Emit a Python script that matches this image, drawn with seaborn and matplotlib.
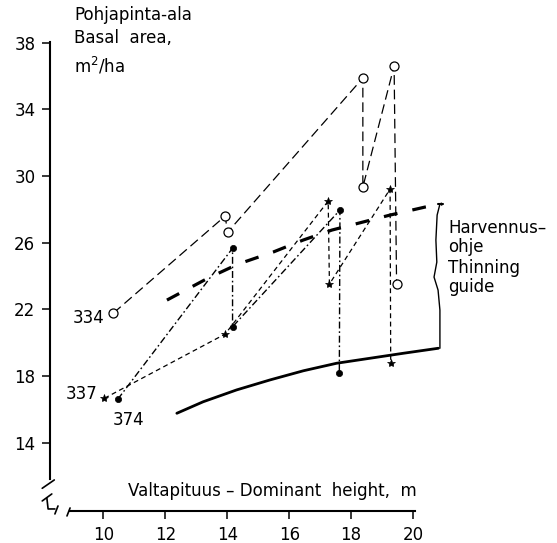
import matplotlib
matplotlib.use("Agg")
import matplotlib.pyplot as plt
import seaborn as sns

# Koeala 334 (avoimet ympyrät)
x_334 = [10.32, 13.93, 14.01, 18.38, 18.38, 19.39, 19.47]
y_334 = [21.78, 27.60, 26.63, 35.88, 29.34, 36.60, 23.52]

# Koeala 337 (tähdet)
x_337 = [10.03, 13.93, 17.26, 17.30, 19.26, 19.28]
y_337 = [16.67, 20.52, 28.50, 23.52, 29.22, 18.80]

# Koeala 374 (mustat pisteet)
x_374 = [10.46, 14.17, 14.17, 17.64, 17.62]
y_374 = [16.61, 25.67, 20.96, 27.96, 18.17]

# Harvennusohje, ylä- ja alaraja
ohje_yla_x = [12.05, 13.38, 14.35, 15.48, 16.45, 17.38, 18.38, 19.26, 20.39, 20.94]
ohje_yla_y = [22.56, 23.88, 24.72, 25.44, 26.16, 26.76, 27.24, 27.66, 28.14, 28.32]
ohje_ala_x = [12.37, 13.22, 14.30, 15.38, 16.46, 17.53, 18.61, 19.69, 20.82]
ohje_ala_y = [15.77, 16.46, 17.17, 17.77, 18.32, 18.77, 19.07, 19.37, 19.67]

x_ticks = [10, 12, 14, 16, 18, 20]
y_ticks = [14, 18, 22, 26, 30, 34, 38]

sns.set_style("ticks")
plt.rcParams['font.family'] = ['DejaVu Sans']
plt.rcParams['text.color'] = 'black'
plt.rcParams['lines.scale_dashes'] = False

fig = plt.figure(figsize=(5.57, 5.43), dpi=100)
ax = fig.add_axes([0, 0, 1, 1])
ax.set_facecolor('white')

# kasvupolut
sns.lineplot(x=x_334, y=y_334, sort=False, estimator=None, ax=ax, color='black',
             lw=0.9, linestyle=(0, (7, 3.5)), marker='o', markersize=6.5,
             markerfacecolor='white', markeredgecolor='black', markeredgewidth=0.9)
sns.lineplot(x=x_337, y=y_337, sort=False, estimator=None, ax=ax, color='black',
             lw=0.9, linestyle=(0, (3.5, 2.5)), marker='*', markersize=6,
             markerfacecolor='black', markeredgecolor='black', markeredgewidth=0.5)
sns.lineplot(x=x_374, y=y_374, sort=False, estimator=None, ax=ax, color='black',
             lw=1.0, linestyle=(0, (5, 2, 1.2, 2)), marker='o', markersize=4.5,
             markerfacecolor='black', markeredgecolor='black', markeredgewidth=0.5)

# harvennusohje
sns.lineplot(x=ohje_yla_x, y=ohje_yla_y, sort=False, estimator=None, ax=ax,
             color='black', lw=2.3, linestyle=(0, (10, 11)))
sns.lineplot(x=ohje_ala_x, y=ohje_ala_y, sort=False, estimator=None, ax=ax,
             color='black', lw=2.0)

# aaltosulje
sulje_x = [20.87, 20.78, 20.74, 20.77, 20.68, 20.81, 20.87, 20.87, 20.87]
sulje_y = [28.32, 27.66, 26.16, 24.84, 23.94, 23.16, 21.96, 20.46, 19.67]
ax.plot(sulje_x, sulje_y, color='black', lw=1.0)
ax.plot([20.80, 20.98], [28.32, 28.32], color='black', lw=1.5)

ax.set_xlim(6.656, 24.653)
ax.set_ylim(7.988, 40.561)

for s in ['top', 'right']:
    ax.spines[s].set_visible(False)
ax.spines['left'].set_position(('data', 8.27))
ax.spines['left'].set_bounds(11.85, 38.05)
ax.spines['bottom'].set_position(('data', 9.91))
ax.spines['bottom'].set_bounds(8.92, 20.06)
for s in ['left', 'bottom']:
    ax.spines[s].set_linewidth(1.5)
    ax.spines[s].set_color('black')

ax.set_xticks(x_ticks)
ax.set_yticks(y_ticks)
ax.tick_params(direction='out', length=5.5, width=1.1, labelsize=12, pad=5,
               colors='black', left=True, bottom=True)
ax.set_xlabel('')
ax.set_ylabel('')

# akselin katkot
ax.plot([8.02, 8.41], [11.27, 11.77], color='black', lw=1.2)
ax.plot([8.02, 8.33], [10.51, 10.93], color='black', lw=1.2)
ax.plot([8.17, 8.21, 8.43], [10.69, 10.03, 10.03], color='black', lw=1.2)
ax.plot([8.43, 8.53], [9.73, 10.21], color='black', lw=1.2)
ax.plot([8.82, 8.92], [9.61, 10.09], color='black', lw=1.2)

# tekstit
fs = 12
ax.text(9.05, 39.39, 'Pohjapinta-ala', fontsize=fs, va='baseline')
ax.text(9.05, 37.96, 'Basal  area,', fontsize=fs, va='baseline')
ax.text(9.05, 36.20, r'm$^{\mathregular{2}}$/ha', fontsize=fs, va='baseline')
ax.text(10.79, 10.81, 'Valtapituus – Dominant  height,  m', fontsize=fs, va='baseline')
ax.text(10.02, 21.17, '334', fontsize=fs, ha='right', va='baseline')
ax.text(9.79, 16.63, '337', fontsize=fs, ha='right', va='baseline')
ax.text(10.30, 15.07, '374', fontsize=fs, ha='left', va='baseline')
for txt, yy in [('Harvennus–', 26.60), ('ohje', 25.42), ('Thinning', 24.20), ('guide', 23.06)]:
    ax.text(21.13, yy, txt, fontsize=fs, va='baseline')

fig.savefig('out.png', dpi=100)
